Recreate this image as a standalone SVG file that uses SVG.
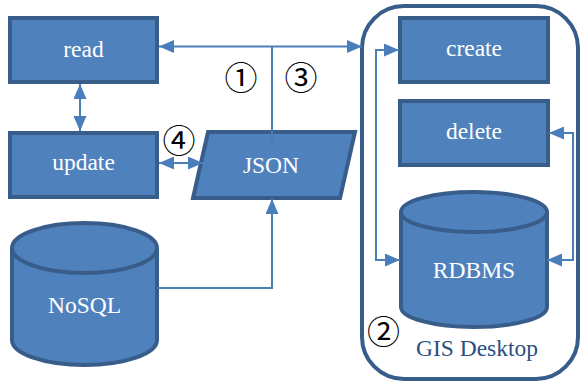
<svg xmlns="http://www.w3.org/2000/svg" width="582" height="383" viewBox="0 0 582 383">
<defs>
<style>
.box{fill:#4F81BD;stroke:#385D8A;stroke-width:4}
.lbl{font-family:'Liberation Serif',serif;font-size:23.5px;fill:#FFFFFF;text-anchor:middle}
.gis{font-family:'Liberation Serif',serif;font-size:23.5px;fill:#2B4F81;text-anchor:middle}
.num{font-family:'Noto Sans CJK JP',sans-serif;font-size:33px;fill:#000;text-anchor:middle}
.con{fill:none;stroke:#4A7EBB;stroke-width:2}
</style>
<marker id="ah" viewBox="0 0 15 13" refX="15" refY="6.5" markerWidth="15" markerHeight="13" markerUnits="userSpaceOnUse" orient="auto-start-reverse">
<path d="M0,0 L15,6.5 L0,13 z" fill="#4A7EBB"/>
</marker>
</defs>
<g id="gis-desktop">
<rect x="362" y="6" width="216" height="373" rx="42" ry="42" fill="#FFFFFF" stroke="#385D8A" stroke-width="4"/>
<text class="gis" x="477" y="356">GIS Desktop</text>
</g>
<g id="read">
<rect class="box" x="10" y="18" width="147" height="64"/>
<text class="lbl" x="83.5" y="57">read</text>
</g>
<g id="update">
<rect class="box" x="10" y="133" width="147" height="64"/>
<text class="lbl" x="83.5" y="170">update</text>
</g>
<g id="json">
<polygon class="box" points="208,132 355,132 340,198 193,198"/>
<text class="lbl" x="271" y="173">JSON</text>
</g>
<g id="nosql">
<path class="box" d="M12,248 A72.5,25 0 0 1 157,248 L157,340 A72.5,25 0 0 1 12,340 Z"/>
<path d="M12,248 A72.5,25 0 0 0 157,248" fill="none" stroke="#385D8A" stroke-width="4"/>
<text class="lbl" x="84.5" y="313">NoSQL</text>
</g>
<g id="create">
<rect class="box" x="400" y="18" width="148" height="64"/>
<text class="lbl" x="474" y="56">create</text>
</g>
<g id="delete">
<rect class="box" x="400" y="101" width="148" height="64"/>
<text class="lbl" x="474" y="139">delete</text>
</g>
<g id="rdbms">
<path class="box" d="M401,212 A73,20 0 0 1 547,212 L547,307 A73,20 0 0 1 401,307 Z"/>
<path d="M401,212 A73,20 0 0 0 547,212" fill="none" stroke="#385D8A" stroke-width="4"/>
<text class="lbl" x="474" y="278">RDBMS</text>
</g>
<g id="connectors">
<line class="con" x1="80" y1="84" x2="80" y2="131" marker-start="url(#ah)" marker-end="url(#ah)"/>
<line class="con" x1="159" y1="46.5" x2="362" y2="46.5" marker-start="url(#ah)" marker-end="url(#ah)"/>
<line class="con" x1="272" y1="46.5" x2="272" y2="147"/>
<line class="con" x1="159" y1="163" x2="203" y2="163" marker-start="url(#ah)" marker-end="url(#ah)"/>
<polyline class="con" points="157,288 272,288 272,199" marker-end="url(#ah)"/>
<polyline class="con" points="399,50 376,50 376,260 400,260" marker-start="url(#ah)" marker-end="url(#ah)"/>
<polyline class="con" points="549,133 573,133 573,260 547,260" marker-start="url(#ah)" marker-end="url(#ah)"/>
</g>
<g id="labels">
<text class="num" x="241" y="89.5">①</text>
<text class="num" x="301" y="89.5">③</text>
<text class="num" x="179" y="153">④</text>
<text class="num" x="383.5" y="344">②</text>
</g>
</svg>
